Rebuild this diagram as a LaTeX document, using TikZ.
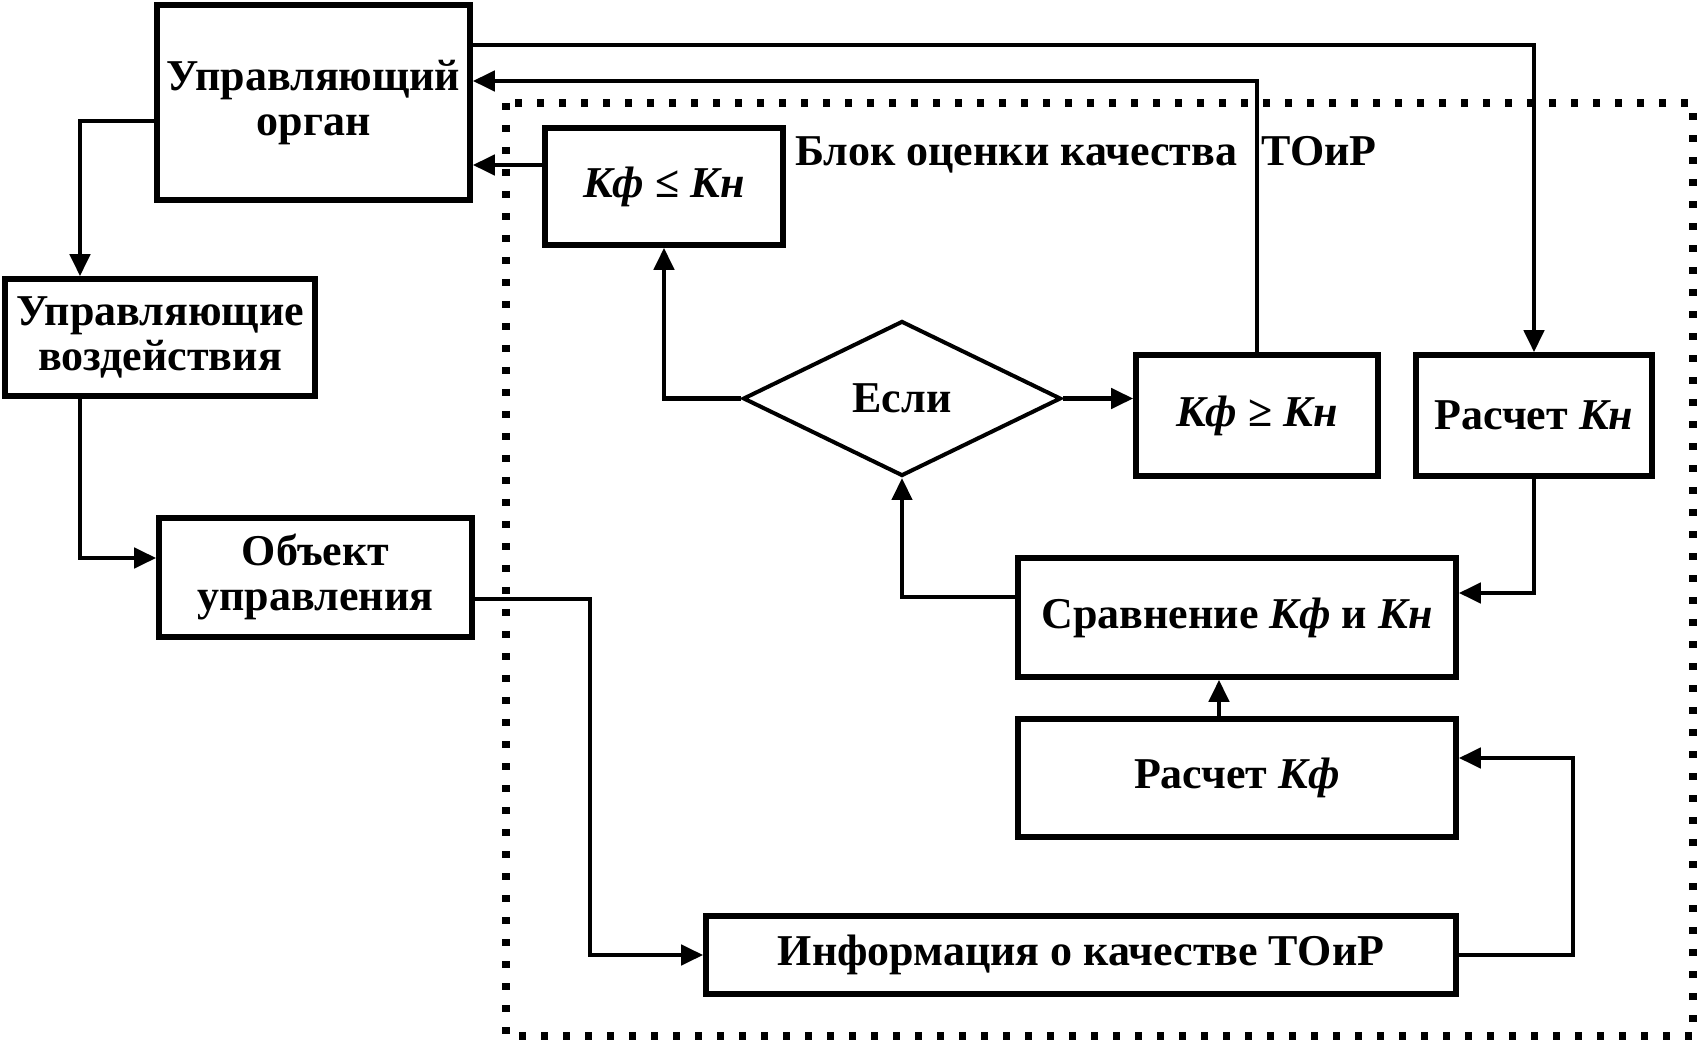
\documentclass[tikz,border=0pt]{standalone}
\usepackage{fontspec}
\setmainfont{Liberation Serif}
\usepackage{tikz}
\usetikzlibrary{arrows.meta, shapes.geometric}

\newcommand{\Kf}{\textit{Кф}}
\newcommand{\Kn}{\textit{Кн}}

\begin{document}
\begin{tikzpicture}[x=0.5pt, y=-0.5pt,
  font=\bfseries\fontsize{22}{22.5}\selectfont,
  block/.style={rectangle, draw=black, line width=2.8pt, fill=white,
    align=center, inner sep=2pt},
  %
  cond/.style={diamond, draw=black, line width=2pt, fill=white,
    minimum width=159pt, minimum height=77.5pt, inner sep=1pt},
  %
  link/.style={line width=2.2pt, -{Triangle[length=11pt, width=10pt]}},
  %
  frame/.style={line width=3.6pt, dash pattern=on 3.5pt off 7.5pt}
  ]

  \useasboundingbox (0,0) rectangle (1698,1042);

  \begin{scope}
    % quality block
    \draw [frame] (506,103) rectangle (1693,1036);
    \node [anchor=west] (blok) at (788,155)
      {Блок оценки качества\hspace{12pt}ТОиР};
    %%%%%%%%%%%%%%%%%%%%%%%%%%%%%%%
    \node [block, minimum width=156.5pt, minimum height=97.5pt] (upr)
      at (313.5,102.5) {Управляющий\\орган};
    \node [block, minimum width=155pt, minimum height=58.5pt] (vozd)
      at (160,337.5) {Управляющие\\воздействия};
    \node [block, minimum width=156.5pt, minimum height=59.5pt] (obj)
      at (315.5,577.5) {Объект\\управления};
    %%%%%%%%%%%%%%%%%%%%%%%%%%%%%%%
    \node [block, minimum width=119pt, minimum height=58.5pt] (le)
      at (664,186.5) {\Kf\ ≤ \Kn};
    \node [cond] (esli) at (902,398.5) {Если};
    \node [block, minimum width=121pt, minimum height=60.5pt] (ge)
      at (1257,415.5) {\Kf\ ≥ \Kn};
    \node [block, minimum width=118pt, minimum height=60.5pt] (rkn)
      at (1534,415.5) {Расчет \Kn};
    \node [block, minimum width=219pt, minimum height=59.5pt] (cmp)
      at (1237,617.5) {Сравнение \Kf\ и \Kn};
    \node [block, minimum width=219pt, minimum height=59pt] (rkf)
      at (1237,778) {Расчет \Kf};
    \node [block, minimum width=375pt, minimum height=39pt] (info)
      at (1081,955) {Информация о качестве ТОиР};
  \end{scope}

  \begin{scope}
    \coordinate (top1) at (1534,45);
    \coordinate (top2) at (1256,81);
    \coordinate (lvl3) at (0,165);
    \coordinate (c4) at (80,121);
    \coordinate (c5) at (0,558);
    \coordinate (c6) at (590,599);
    \coordinate (c7) at (1573,758);
    \coordinate (c8) at (1219,0);
    \coordinate (c9) at (0,593);
    \coordinate (c10) at (0,597);

    \draw [link] (upr.east |- top1) -- (top1) -- (rkn.north);
    \draw [link] (ge.north) |- (upr.east |- top2);
    \draw [link] (le.west |- lvl3) -- (upr.east |- lvl3);
    \draw [link] (upr.west |- c4) -| (vozd.north -| c4);
    \draw [link] (vozd.south -| c4) |- (obj.west |- c5);
    \draw [link] (obj.east |- c6) -- (c6) |- (info.west);
    \draw [link] (info.east) -| (c7) -- (rkf.east |- c7);
    \draw [link] (rkf.north -| c8) -- (cmp.south -| c8);
    \draw [link] (rkn.south) |- (cmp.east |- c9);
    \draw [link] (cmp.west |- c10) -| (esli.south);
    \draw [link] (esli.west) -| (le.south);
    \draw [link] (esli.east) -- (ge.west |- esli.east);
  \end{scope}

\end{tikzpicture}
\end{document}
